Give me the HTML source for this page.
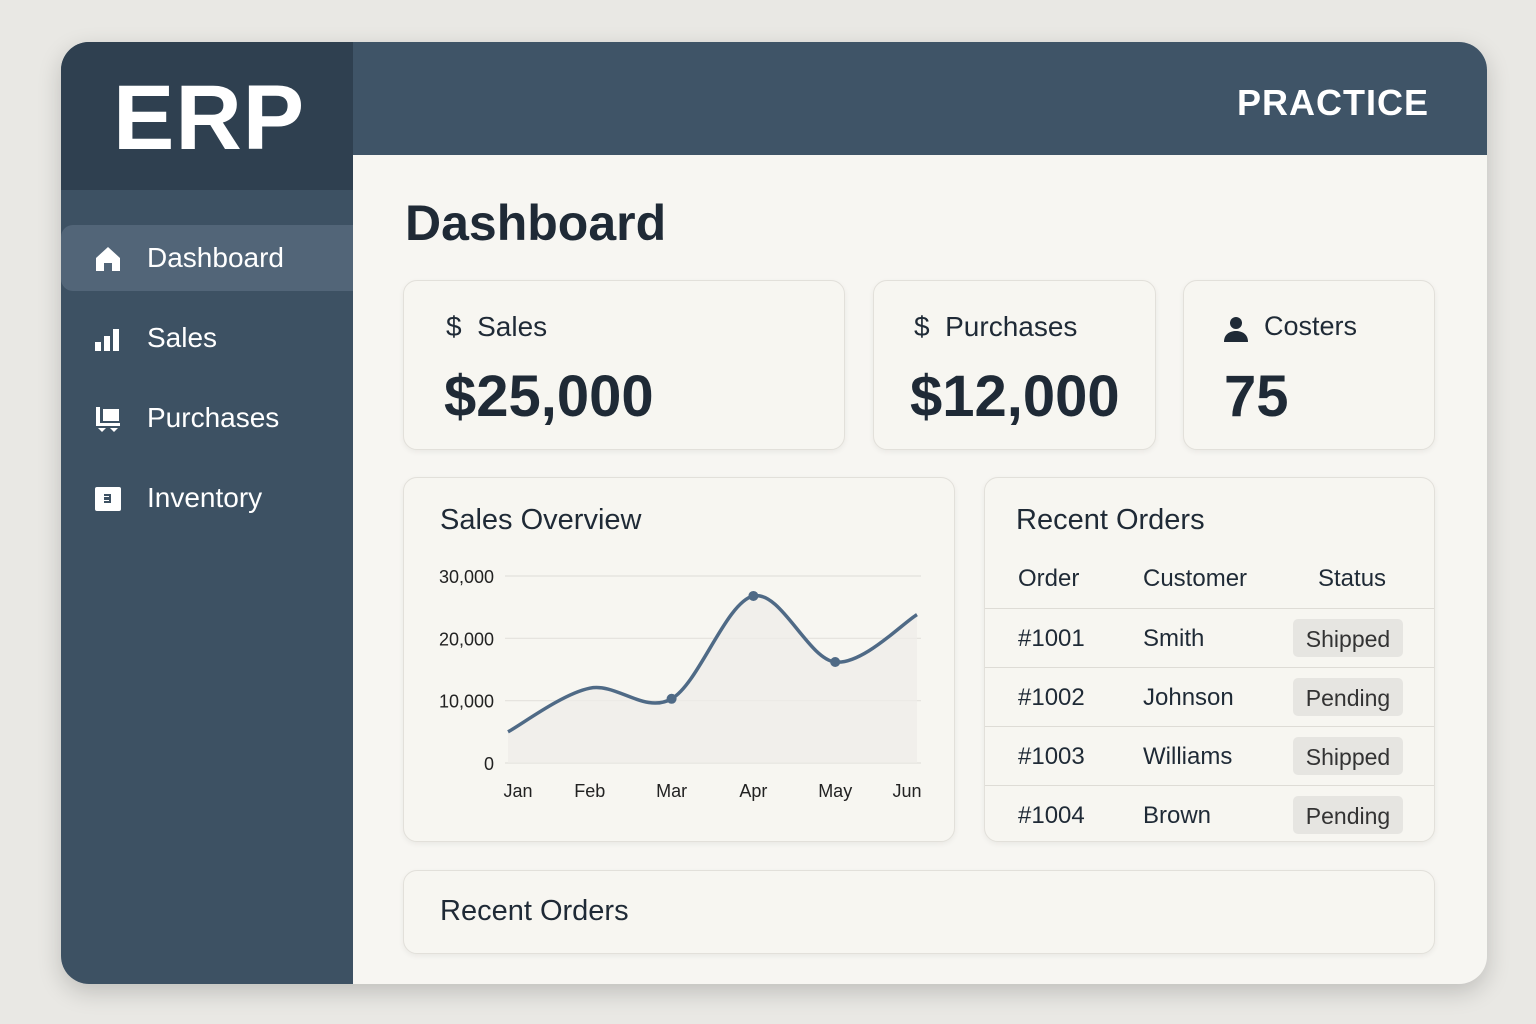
<!DOCTYPE html>
<html><head><meta charset="utf-8">
<style>
*{box-sizing:border-box;margin:0;padding:0}
body{width:1536px;height:1024px;background:#e9e8e4;font-family:"Liberation Sans",sans-serif;position:relative;overflow:hidden;color:#1f2a36}
.frame{position:absolute;left:61px;top:42px;width:1426px;height:942px;border-radius:28px;overflow:hidden;background:#f7f6f2;box-shadow:0 8px 24px rgba(0,0,0,.18)}
.side{position:absolute;left:0;top:0;width:292px;height:942px;background:#3d5163}
.logo{position:absolute;left:0;top:0;width:292px;height:148px;background:#2f4050;color:#fff;font-weight:bold;font-size:92px;padding:24px 0 0 52px;letter-spacing:1px}
.top{position:absolute;left:292px;top:0;right:0;height:113px;background:#3f5467;color:#fff;font-size:36px;font-weight:bold;text-align:right;padding:40px 58px 0 0;letter-spacing:1px}
.nav{position:absolute;left:0;width:292px;height:66px;color:#fff;font-size:28px;padding:17px 0 0 86px}
.nav.active{background:#526578;border-radius:12px 0 0 12px}
.ic{position:absolute;left:33px;top:20px;width:28px;height:28px}
.card{position:absolute;background:#f7f6f1;border:1px solid #e2e0da;border-radius:14px;box-shadow:0 2px 6px rgba(0,0,0,.06)}
.lbl{position:absolute;font-size:28px;color:#1f2a36}
.big{position:absolute;font-size:58px;font-weight:bold;color:#1f2a36}
.h{position:absolute;font-size:29px;color:#1f2a36}
.row{position:absolute;left:0;right:0;height:59px;border-top:1px solid #dedcd6;font-size:24px}
.row span{position:absolute;top:16px}
.badge{position:absolute;left:308px;top:10px;width:110px;height:38px;background:#e6e5e1;border-radius:5px;text-align:center;padding-top:7px;font-size:23px;color:#333}
</style></head><body>
<div class="frame">
 <div class="side">
  <div class="logo">ERP</div>
  <div class="nav active" style="top:183px">
   <svg class="ic" viewBox="0 0 28 28"><path d="M2 13 L14 2 L26 13 V26 H18 V18 H10 V26 H2Z" fill="#fff"/></svg>Dashboard</div>
  <div class="nav" style="top:263px">
   <svg class="ic" viewBox="0 0 28 28"><rect x="1" y="17" width="6" height="9" fill="#fff"/><rect x="10" y="11" width="6" height="15" fill="#fff"/><rect x="19" y="4" width="6" height="22" fill="#fff"/></svg>Sales</div>
  <div class="nav" style="top:343px">
   <svg class="ic" viewBox="0 0 28 28"><path d="M2 2h4v16h20v3H2z" fill="#fff"/><rect x="9" y="4" width="16" height="12" fill="#fff"/><path d="M4 23h8l-4 4zM16 23h8l-4 4z" fill="#fff"/></svg>Purchases</div>
  <div class="nav" style="top:423px">
   <svg class="ic" viewBox="0 0 28 28"><rect x="1" y="2" width="26" height="24" rx="2" fill="#fff"/><path d="M10 10h6v3h-6M10 14h6v3h-6" stroke="#3d5163" stroke-width="2" fill="none"/></svg>Inventory</div>
 </div>
 <div class="top">PRACTICE</div>
 <div style="position:absolute;left:344px;top:152px;font-size:50px;font-weight:bold">Dashboard</div>

 <div class="card" style="left:342px;top:238px;width:442px;height:170px">
  <div class="lbl" style="left:42px;top:30px">$&nbsp;&nbsp;Sales</div><div class="big" style="left:40px;top:82px">$25,000</div></div>
 <div class="card" style="left:812px;top:238px;width:283px;height:170px">
  <div class="lbl" style="left:40px;top:30px">$&nbsp;&nbsp;Purchases</div><div class="big" style="left:36px;top:82px">$12,000</div></div>
 <div class="card" style="left:1122px;top:238px;width:252px;height:170px">
  <svg style="position:absolute;left:38px;top:34px" width="28" height="28" viewBox="0 0 28 28"><circle cx="14" cy="8" r="6" fill="#1f2a36"/><path d="M2 27c0-8 6-11 12-11s12 3 12 11z" fill="#1f2a36"/></svg>
  <div class="lbl" style="left:80px;top:30px;font-size:27px">Costers</div><div class="big" style="left:40px;top:82px">75</div></div>

 <div class="card" style="left:342px;top:435px;width:552px;height:365px">
  <div class="h" style="left:36px;top:26px">Sales Overview</div></div>
 <svg id="chart" style="position:absolute;left:0;top:0" width="1426" height="942"></svg>

 <div class="card" style="left:923px;top:435px;width:451px;height:365px;overflow:hidden">
  <div class="h" style="left:31px;top:26px">Recent Orders</div>
  <div style="position:absolute;top:87px;left:33px;font-size:24px">Order</div>
  <div style="position:absolute;top:87px;left:158px;font-size:24px">Customer</div>
  <div style="position:absolute;top:87px;left:333px;font-size:24px">Status</div>
  <div class="row" style="top:130px"><span style="left:33px">#1001</span><span style="left:158px">Smith</span><div class="badge">Shipped</div></div>
  <div class="row" style="top:189px"><span style="left:33px">#1002</span><span style="left:158px">Johnson</span><div class="badge">Pending</div></div>
  <div class="row" style="top:248px"><span style="left:33px">#1003</span><span style="left:158px">Williams</span><div class="badge">Shipped</div></div>
  <div class="row" style="top:307px"><span style="left:33px">#1004</span><span style="left:158px">Brown</span><div class="badge">Pending</div></div>
 </div>
 <div class="card" style="left:342px;top:828px;width:1032px;height:84px">
  <div class="h" style="left:36px;top:24px">Recent Orders</div></div>
</div>
<script>
const months=["Jan","Feb","Mar","Apr","May","Jun"];
const sales=[5000,12000,10300,26800,16200,23800];
const yTicks=[0,10000,20000,30000];
const yTickLabels=["0","10,000","20,000","30,000"];
const dotIdx=[2,3,4];
const svg=document.getElementById('chart');
const NS='http://www.w3.org/2000/svg';
const x0=447,x1=856,y0=721,yTop=534;
const xs=i=>x0+(x1-x0)*i/(months.length-1);
const ys=v=>y0-(y0-yTop)*v/30000;
function mk(t,a){const e=document.createElementNS(NS,t);for(const k in a)e.setAttribute(k,a[k]);svg.appendChild(e);return e;}
yTicks.forEach((v,i)=>{
 const l=mk('line',{x1:444,x2:860,y1:ys(v),y2:ys(v),stroke:'#e3e1dc','stroke-width':1.2});
 
 
 const t=mk('text',{x:433,y:ys(v)+7,'text-anchor':'end','font-size':18,fill:'#222','font-family':'Liberation Sans'});
 t.textContent=yTickLabels[i];
 
 
});
months.forEach((m,i)=>{
 const t=mk('text',{x:xs(i)+(i==0?10:i==5?-10:0),y:755,'text-anchor':'middle','font-size':18,fill:'#222','font-family':'Liberation Sans'});
 t.textContent=m;
 
 
});
const P=sales.map((v,i)=>[xs(i),ys(v)]);
let d='M'+P[0][0]+','+P[0][1];
for(let i=0;i<P.length-1;i++){
 const p0=P[i-1]||P[i],p1=P[i],p2=P[i+1],p3=P[i+2]||P[i+1];
 const c1=[p1[0]+(p2[0]-p0[0])/6,p1[1]+(p2[1]-p0[1])/6],c2=[p2[0]-(p3[0]-p1[0])/6,p2[1]-(p3[1]-p1[1])/6];
 d+=` C${c1[0]},${c1[1]} ${c2[0]},${c2[1]} ${p2[0]},${p2[1]}`;
}
const area=mk('path',{d:d+` L${P[5][0]},${y0} L${P[0][0]},${y0}Z`,fill:'#eeece8',opacity:0.7});


const line=mk('path',{d:d,fill:'none',stroke:'#4f6a86','stroke-width':3.5});


dotIdx.forEach(i=>{
 const c=mk('circle',{cx:P[i][0],cy:P[i][1],r:5,fill:'#4f6a86'});
 
 
});
</script>
</body></html>
